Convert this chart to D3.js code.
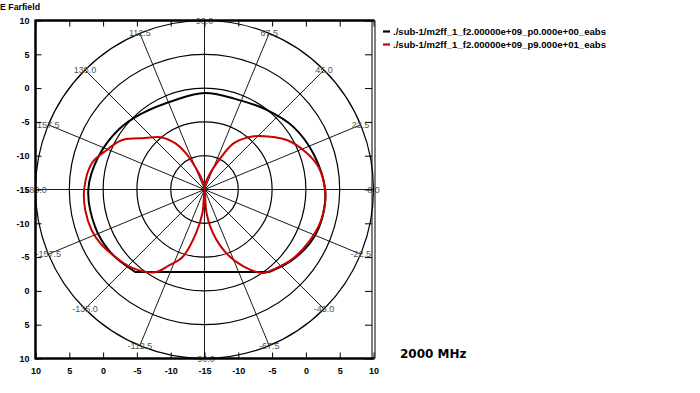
<!DOCTYPE html>
<html><head><meta charset="utf-8">
<script src="https://cdn.jsdelivr.net/npm/d3@7"></script>
<style>body{margin:0;background:#fff}svg{display:block}</style>
</head><body><svg id="c" width="700" height="393"></svg>
<script>
// ---- data ----
const ringValues = [-10, -5, 0, 5, 10];                // dB rings
const axisTicks = [-25, -20, -15, -10, -5, 0, 5, 10, 15, 20, 25]; // offsets from centre
const angleTicks = [0, 22.5, 45, 67.5, 90, 112.5, 135, 157.5, 180, 202.5, 225, 247.5, 270, 292.5, 315, 337.5];
const seriesNames = ["./sub-1/m2ff_1_f2.00000e+09_p0.000e+00_eabs", "./sub-1/m2ff_1_f2.00000e+09_p9.000e+01_eabs"];
const seriesColors = ["#000000", "#cc0000"];

// black series (phi = 0): angle in degrees, value in dB
const blackAngles = [-52, -40, -27, -15, 0, 18, 35, 52, 72, 90, 108, 130, 145, 163, 180, 199, 212, 220, 230];
const blackValues = [0.49, 1.55, 2.51, 2.9, 2.83, 1.97, 1.09, -0.06, -0.86, -0.74, -1.07, -0.4, 0.49, 1.44, 2.19, 2.1, 1.8, 1.4, 0.93];

// red series (phi = 90)
const redAngles = [90, 80, 71, 65, 58, 50, 44, 31, 20, 11, 0, -6, -16, -26, -38, -47, -55, -63, -71, -79, -85, -90,
                   -95, -101, -108, -115, -121, -133, -143, -152, -160, -170, 180, 167, 158, 149, 139, 130, 122, 117, 109, 100, 90];
const redValues = [-16, -14.0, -12.5, -10.7, -7.0, -4.9, -3.6, -0.8, 1.0, 2.2, 2.85, 2.94, 2.8, 2.3, 1.6, 0.8, 0.07, -2.2, -5.0, -8.4, -11.5, -16,
                   -11.5, -8.4, -4.5, -2.6, -0.7, 0.8, 1.55, 2.3, 2.74, 2.9, 2.8, 2.13, 0.6, -0.8, -3.4, -4.9, -7.0, -9.0, -12.5, -14.0, -16];

const title = "E Farfield";
const freqLabel = "2000 MHz";

// ---- layout ----
const svg = d3.select('#c');
const cx = 204.5, cy = 189.5, R = 169;
const rScale = d3.scaleLinear().domain([-15, 10]).range([0, R]).clamp(true);
const xS = d3.scaleLinear().domain([-25, 25]).range([cx - R, cx + R]);
const yS = d3.scaleLinear().domain([-25, 25]).range([cy + R, cy - R]);
const rad = d => d * Math.PI / 180;

// rings
const grid = svg.append('g');
grid.selectAll('circle').data(ringValues).join('circle')
  .attr('cx', cx).attr('cy', cy).attr('r', d => rScale(d))
  .attr('fill', 'none').attr('stroke', '#000').attr('stroke-width', 1.2);
// spokes
grid.selectAll('line').data(angleTicks).join('line')
  .attr('x1', cx).attr('y1', cy)
  .attr('x2', d => cx + R * Math.cos(rad(d))).attr('y2', d => cy - R * Math.sin(rad(d)))
  .attr('stroke', '#000').attr('stroke-width', 0.9);

// curves
const line = d3.lineRadial()
  .angle(d => rad(90 - d[0]))
  .radius(d => rScale(d[1]))
  .curve(d3.curveCatmullRom);
const plot = svg.append('g').attr('transform', `translate(${cx},${cy})`);
const blackData = blackAngles.map((a, i) => [a, blackValues[i]]);
const redData = redAngles.map((a, i) => [a, redValues[i]]);
plot.append('path').attr('d', line(blackData) + 'Z')
  .attr('fill', 'none').attr('stroke', seriesColors[0]).attr('stroke-width', 2);
plot.append('path').attr('d', line(redData))
  .attr('fill', 'none').attr('stroke', seriesColors[1]).attr('stroke-width', 2);

// angle labels
svg.append('g').selectAll('text').data(angleTicks).join('text')
  .attr('x', d => cx + R * Math.cos(rad(d))).attr('y', d => cy - R * Math.sin(rad(d)))
  .attr('text-anchor', 'middle').attr('dominant-baseline', 'central')
  .style('font', '9px "Liberation Sans", Arial, sans-serif').attr('fill', '#4a5656')
  .text(d => (d <= 180 ? d : d - 360).toFixed(1));

// axes
const fmt = d => Math.abs(d) - 15;
function styleAxis(g) {
  g.select('.domain').remove();
  g.selectAll('.tick line').attr('stroke', '#000').attr('stroke-width', 1);
  g.selectAll('.tick text').attr('fill', '#000')
    .style('font', 'bold 9px "Liberation Sans", Arial, sans-serif');
}
svg.append('g').attr('transform', `translate(${cx - R},0)`)
  .call(d3.axisLeft(yS).tickValues(axisTicks).tickSize(-6).tickPadding(6).tickFormat(fmt)).call(styleAxis);
svg.append('g').attr('transform', `translate(0,${cy + R})`)
  .call(d3.axisBottom(xS).tickValues(axisTicks).tickSize(-6).tickPadding(9).tickFormat(fmt)).call(styleAxis);
svg.append('g').attr('transform', `translate(0,${cy - R})`)
  .call(d3.axisTop(xS).tickValues(axisTicks).tickSize(-6).tickFormat('')).call(styleAxis);
svg.append('g').attr('transform', `translate(${cx + R - 1.5},0)`)
  .call(d3.axisRight(yS).tickValues(axisTicks).tickSize(-7).tickFormat('')).call(styleAxis);

// frame
const fr = svg.append('g').attr('stroke', '#000');
fr.append('line').attr('x1', cx - R).attr('x2', cx - R).attr('y1', cy - R - 1).attr('y2', cy + R + 1).attr('stroke-width', 2.5);
fr.append('line').attr('x1', cx - R).attr('x2', cx + R + 1).attr('y1', cy - R).attr('y2', cy - R).attr('stroke-width', 2.5);
fr.append('line').attr('x1', cx - R).attr('x2', cx + R + 1).attr('y1', cy + R).attr('y2', cy + R).attr('stroke-width', 2.5);
fr.append('line').attr('x1', cx + R - 1.5).attr('x2', cx + R - 1.5).attr('y1', cy - R).attr('y2', cy + R).attr('stroke-width', 1);
fr.append('line').attr('x1', cx + R + 1.5).attr('x2', cx + R + 1.5).attr('y1', cy - R).attr('y2', cy + R).attr('stroke-width', 1);

// title
svg.append('text').attr('x', 0).attr('y', 10).attr('textLength', 40).attr('lengthAdjust', 'spacingAndGlyphs')
  .style('font', 'bold 9px "Liberation Sans", Arial, sans-serif').text(title);

// legend
const lg = svg.append('g').selectAll('g').data(seriesNames).join('g')
  .attr('transform', (d, i) => `translate(383,${31.5 + i * 13})`);
lg.append('line').attr('x1', 0).attr('x2', 7).attr('stroke', (d, i) => seriesColors[i]).attr('stroke-width', 2.2);
lg.append('text').attr('x', 10).attr('y', 3.3).attr('textLength', 213).attr('lengthAdjust', 'spacingAndGlyphs')
  .style('font', 'bold 9px "Liberation Sans", Arial, sans-serif').text(d => d);

// frequency label
svg.append('text').attr('x', 400).attr('y', 358)
  .style('font', 'bold 12px "DejaVu Sans", Verdana, sans-serif').text(freqLabel);
</script></body></html>
